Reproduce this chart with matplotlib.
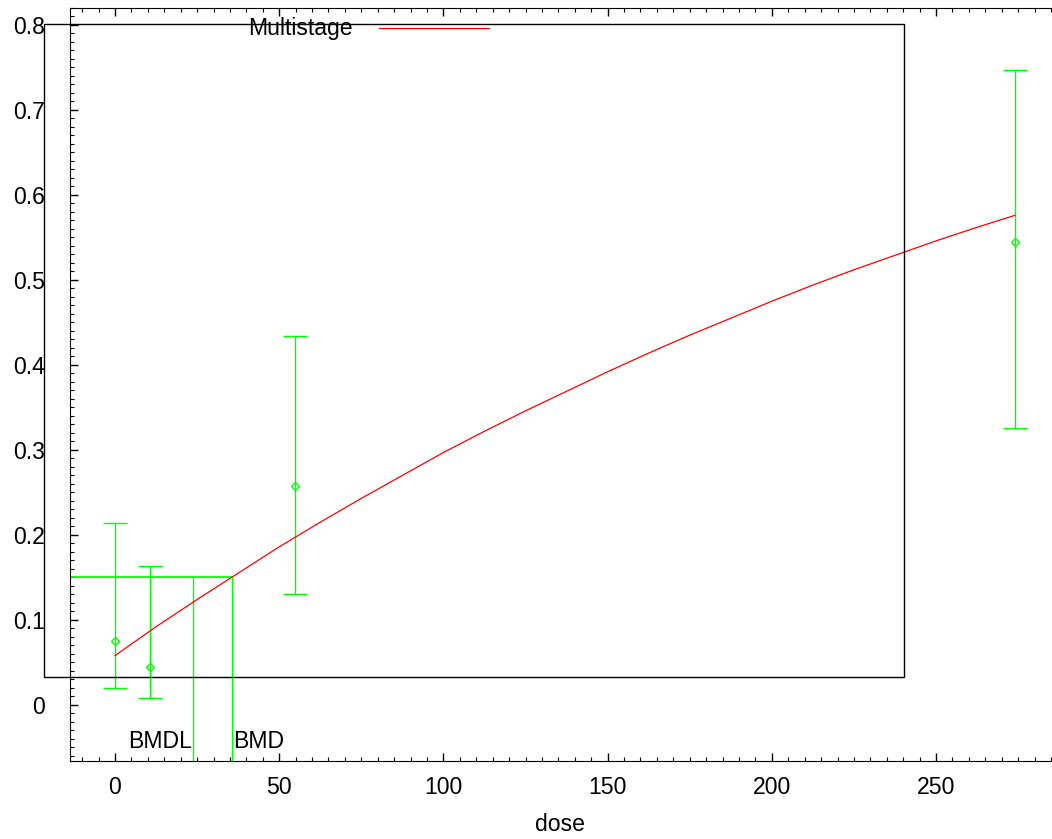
import matplotlib
matplotlib.use("Agg")
import matplotlib.pyplot as plt
from matplotlib.patches import Rectangle
from matplotlib.lines import Line2D
from matplotlib.ticker import MultipleLocator, FuncFormatter

plt.rcParams["font.family"] = ["Liberation Sans", "DejaVu Sans"]
plt.rcParams["font.size"] = 16.6

# observed response with error bars
dose = [0.0, 10.7, 54.8, 274.0]
resp = [0.075, 0.045, 0.257, 0.545]
err_lo = [0.020, 0.008, 0.131, 0.326]
err_hi = [0.214, 0.164, 0.434, 0.747]

# multistage fit
fit_dose = [0, 12.5, 25, 37.5, 50, 62.5, 75, 87.5, 100, 112.5, 125, 137.5,
            150, 162.5, 175, 187.5, 200, 212.5, 225, 237.5, 250, 262.5, 274]
fit_resp = [0.058, 0.092, 0.124, 0.155, 0.186, 0.215, 0.243, 0.270,
            0.297, 0.322, 0.346, 0.369, 0.392, 0.414, 0.435, 0.455,
            0.475, 0.494, 0.512, 0.529, 0.546, 0.562, 0.576]

bmr = 0.151
bmd = 35.6
bmdl = 23.8

GREEN = "#00ff00"
RED = "#ff0000"

fig = plt.figure(figsize=(10.52, 8.39), dpi=100)
ax = fig.add_axes([70 / 1052, 78 / 839, 981 / 1052, 753 / 839])

ax.errorbar(dose, resp,
            yerr=[[r - l for r, l in zip(resp, err_lo)],
                  [h - r for r, h in zip(resp, err_hi)]],
            fmt="D", mfc="none", mec=GREEN, ms=4.5, mew=1,
            ecolor=GREEN, elinewidth=1, capsize=8.3, capthick=1, zorder=3)
ax.plot(fit_dose, fit_resp, color=RED, lw=0.9, zorder=4)

# BMD / BMDL markers
ylo = -0.066
ax.plot([-13.7, bmd], [bmr, bmr], color=GREEN, lw=1.3, zorder=2)
ax.plot([bmdl, bmdl], [ylo, bmr], color=GREEN, lw=1, zorder=2)
ax.plot([bmd, bmd], [ylo, bmr], color=GREEN, lw=1, zorder=2)
ax.text(bmdl - 0.3, -0.043, "BMDL", ha="right", va="center")
ax.text(bmd + 0.3, -0.043, "BMD", ha="left", va="center")

ax.set_xlim(-13.7, 285)
ax.set_ylim(ylo, 0.82)
ax.xaxis.set_major_locator(MultipleLocator(50))
ax.xaxis.set_minor_locator(MultipleLocator(5))
ax.yaxis.set_major_locator(MultipleLocator(0.1))
ax.yaxis.set_minor_locator(MultipleLocator(0.01))
ax.yaxis.set_major_formatter(FuncFormatter(lambda v, p: "%g" % round(v, 3)))
ax.tick_params(which="both", direction="in", top=True, right=False)
ax.tick_params(which="major", length=6, width=1)
ax.tick_params(which="minor", length=3, width=0.8)
ax.tick_params(axis="x", pad=11)
ax.tick_params(axis="y", pad=18)
ax.spines["right"].set_visible(False)
ax.set_xlabel("dose", labelpad=10)

# legend drawn the way the original shows it
fig.text(300 / 1052, 1 - 29 / 839, "Multistage", ha="center", va="center")
fig.add_artist(Line2D([379 / 1052, 489 / 1052], [1 - 28 / 839, 1 - 28 / 839],
                      color=RED, lw=0.9, transform=fig.transFigure))

# stray frame box
fig.add_artist(Rectangle((44 / 1052, 1 - 677 / 839), 860 / 1052, 653 / 839,
                         transform=fig.transFigure, fill=False,
                         edgecolor="black", lw=1, zorder=10))

fig.savefig("out.png", dpi=100)
